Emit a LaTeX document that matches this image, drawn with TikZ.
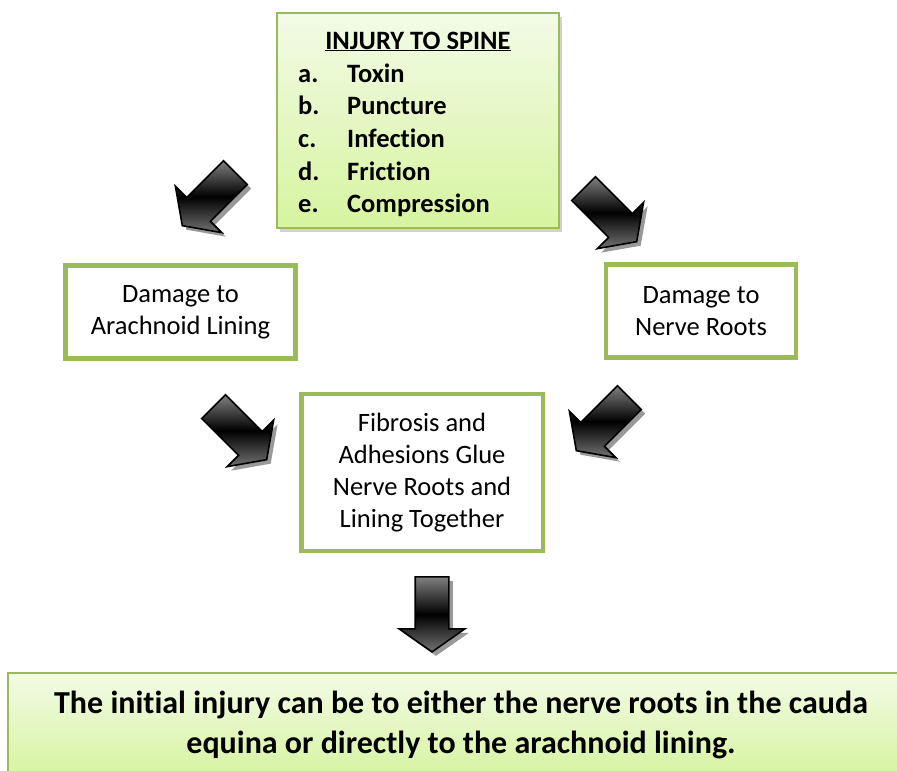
\documentclass[tikz,border=0pt]{standalone}
\usepackage{fontspec}
\setmainfont[Ligatures=CommonOff]{Carlito}
\usepackage{xcolor}
\usetikzlibrary{shapes.arrows,shadows}

\definecolor{boxgreen}{HTML}{9BBB59}
\definecolor{paletop}{HTML}{F3FBE6}
\definecolor{palebot}{HTML}{D6F4A0}

\begin{document}
\begin{tikzpicture}[
  x=1pt, y=-1pt,
  font=\fontsize{26.5}{32}\selectfont,
  stepbox/.style={draw=boxgreen, line width=4.5pt, fill=white, align=center,
    inner sep=0pt},
  notebox/.style={draw=boxgreen, line width=1.5pt, top color=paletop,
    bottom color=palebot, inner sep=0pt, align=center},
  hdr/.style={font=\fontsize{26.5}{32}\selectfont\bfseries, inner sep=0pt},
  bigarrow/.style={single arrow, draw=black, line width=1.6pt,
    inner xsep=0pt, inner ysep=16pt, text height=0pt, text depth=0pt,
    minimum height=75pt, single arrow head extend=16pt,
    single arrow tip angle=110,
    top color=black!50, bottom color=black!55, middle color=black,
    drop shadow={shadow xshift=4pt, shadow yshift=-4pt, fill=black!40,
      opacity=1}},
]
\useasboundingbox (0,0) rectangle (897,771);
\clip (0,0) rectangle (897,771);

% cause box
\node[notebox, minimum width=282pt, minimum height=215pt,
  drop shadow={shadow xshift=3pt, shadow yshift=-4pt, fill=black!35,
    opacity=.5}] (spine) at (418,120.5) {};
\node[hdr, anchor=base] (head) at (418,49) {\underline{INJURY TO SPINE}};
\foreach \lbl/\what [count=\i] in {a./Toxin, b./Puncture, c./Infection,
    d./Friction, e./Compression} {
  \node[hdr, anchor=base west] (lbl\i) at (298,{82+32.7*(\i-1)}) {\lbl};
  \node[hdr, anchor=base west] (cause\i) at (347,{82+32.7*(\i-1)}) {\what};
}

% damage boxes
\node[stepbox, minimum width=230pt, minimum height=93pt] (arach)
  at (180.5,312) {Damage to\\Arachnoid Lining};
\node[stepbox, minimum width=190pt, minimum height=93pt] (nerve)
  at (701,311) {Damage to\\Nerve Roots};
\node[stepbox, minimum width=241.5pt, minimum height=157pt] (fibro)
  at (422,472.5) {Fibrosis and\\Adhesions Glue\\Nerve Roots and\\Lining Together};

% summary
\node[notebox, minimum width=906pt, minimum height=104pt,
  font=\fontsize{32}{40}\selectfont\bfseries] (note) at (461,725)
  {The initial injury can be to either the nerve roots in the cauda\\
   equina or directly to the arachnoid lining.};

% block arrows
\node[bigarrow, rotate=-135] (arrA) at (213,195) {};
\node[bigarrow, rotate=-45] (arrB) at (606,211) {};
\node[bigarrow, rotate=-45] (arrC) at (236,429) {};
\node[bigarrow, rotate=-135] (arrD) at (607,420) {};
\node[bigarrow, rotate=-90] (arrE) at (432,608.5) {};
\end{tikzpicture}
\end{document}
